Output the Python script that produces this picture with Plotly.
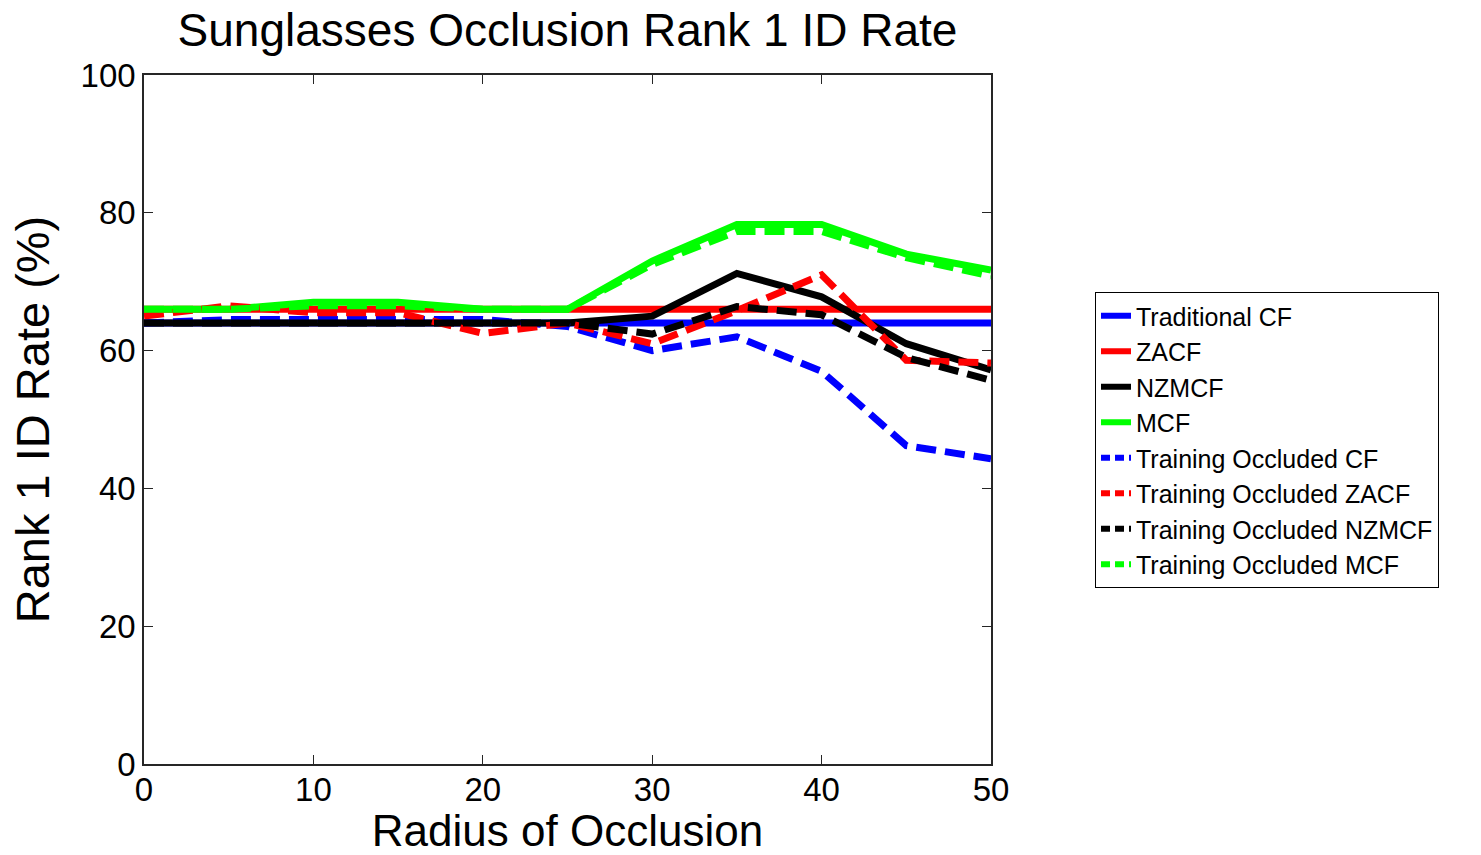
import plotly.graph_objects as go

# Occlusion radius (pixels)
radius = [0, 5, 10, 15, 20, 25, 30, 35, 40, 45, 50]

# Rank-1 identification rate (%) for filters trained on clean faces
traditional_cf = [64, 64, 64, 64, 64, 64, 64, 64, 64, 64, 64]
zacf = [66, 66, 66, 66, 66, 66, 66, 66, 66, 66, 66]
nzmcf = [64, 64, 64, 64, 64, 64, 65, 71.2, 67.8, 61, 57.2]
mcf = [66, 66, 67, 67, 66, 66, 73, 78.3, 78.3, 74, 71.7]

# Rank-1 identification rate (%) for filters trained on occluded faces
occ_cf = [64, 64.5, 64.5, 64.5, 64.5, 63.5, 60, 62, 57, 46.2, 44.3]
occ_zacf = [65, 66.5, 65.5, 65.5, 62.5, 64, 61, 65.8, 71, 58.6, 58.2]
occ_nzmcf = [64, 64, 64, 64, 64, 64, 62.4, 66.4, 65.2, 59, 55.7]
occ_mcf = [66, 66, 66.5, 66.5, 66, 66, 72.5, 77.3, 77.3, 73.5, 70.8]

series = [
    ("Traditional CF", traditional_cf, "#0000ff", True),
    ("ZACF", zacf, "#ff0000", True),
    ("NZMCF", nzmcf, "#000000", True),
    ("MCF", mcf, "#00ff00", True),
    ("Training Occluded CF", occ_cf, "#0000ff", False),
    ("Training Occluded ZACF", occ_zacf, "#ff0000", False),
    ("Training Occluded NZMCF", occ_nzmcf, "#000000", False),
    ("Training Occluded MCF", occ_mcf, "#00ff00", False),
]

FONT = "Liberation Sans, Arial, sans-serif"
PLOT_DASH = "20px,9px"
KEY_DASH = "9px,5px"

fig = go.Figure()
for name, vals, color, solid in series:
    # data line
    fig.add_trace(go.Scatter(
        x=radius, y=vals, name=name, mode="lines", showlegend=False,
        legendgroup=name,
        line=dict(color=color, width=7, dash="solid" if solid else PLOT_DASH),
    ))
for name, vals, color, solid in series:
    # legend key with a shorter dash so three dashes show in the swatch
    fig.add_trace(go.Scatter(
        x=[None], y=[None], name=name, mode="lines", legendgroup=name,
        line=dict(color=color, width=6, dash="solid" if solid else KEY_DASH),
    ))

axis_common = dict(
    showgrid=False, zeroline=False, automargin=False,
    showline=True, linecolor="#262626", linewidth=1.5,
    mirror="ticks", ticks="inside", ticklen=9, tickcolor="#262626",
    tickfont=dict(family=FONT, size=33, color="black"),
)

fig.update_layout(
    width=1481, height=855,
    margin=dict(l=144, r=490, t=75, b=91),
    paper_bgcolor="white", plot_bgcolor="white",
    font=dict(family=FONT, color="black"),
    title=dict(
        text="Sunglasses Occlusion Rank 1 ID Rate",
        font=dict(family=FONT, size=46, color="black"),
        x=(144 + 991) / 2 / 1481, xanchor="center",
        y=1 - 30 / 855, yanchor="middle", xref="container", yref="container",
    ),
    xaxis=dict(
        range=[0, 50], tickvals=[0, 10, 20, 30, 40, 50],
        ticklabelstandoff=-4,
        title=dict(text="Radius of Occlusion", font=dict(family=FONT, size=44), standoff=10),
        **axis_common,
    ),
    yaxis=dict(
        range=[0, 100], tickvals=[0, 20, 40, 60, 80, 100],
        title=dict(text="Rank 1 ID Rate (%)", font=dict(family=FONT, size=47), standoff=16),
        **axis_common,
    ),
    legend=dict(
        x=(1095 - 144) / 847, y=(764 - 292) / 689,
        xanchor="left", yanchor="top",
        bordercolor="black", borderwidth=1, bgcolor="white",
        font=dict(family=FONT, size=25, color="black"),
        tracegroupgap=0, itemwidth=30,
    ),
    showlegend=True,
)

fig.write_html("out.html")
